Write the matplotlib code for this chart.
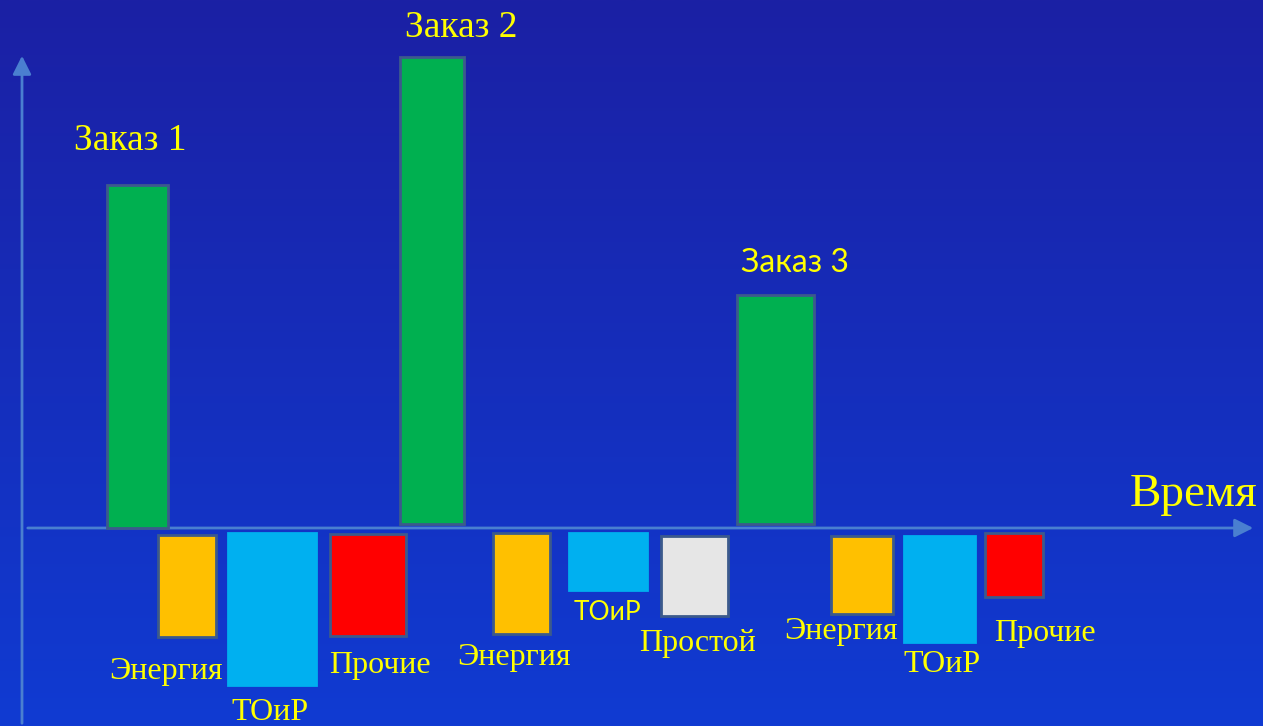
import numpy as np
import matplotlib
matplotlib.use('Agg')
import matplotlib.pyplot as plt
from matplotlib.colors import to_rgb

# Datos (altura de cada columna)
orders = ['Заказ 1', 'Заказ 2', 'Заказ 3']
order_values = [343, 471, 233]
cost_labels = ['Энергия', 'ТОиР', 'Прочие', 'Энергия', 'ТОиР', 'Простой',
               'Энергия', 'ТОиР', 'Прочие']
cost_values = [102, 152, 102, 101, 57, 80, 78, 106, 64]

# Disposición (posiciones y anchos de columnas)
order_x = [107, 400, 737]
order_w = [61, 64, 77]
order_gap = [0, 4, 4]
cost_x = [158, 228, 330, 493, 569, 661, 831, 904, 985]
cost_w = [58, 88, 76, 57, 78, 67, 62, 71, 58]
cost_gap = [7, 5, 6, 5, 5, 8, 8, 8, 5]

# Posiciones de los textos
order_text_pos = [(130, 387), (461, 500), (795, 265)]
order_text_font = ['serif', 'serif', 'sans']
cost_text_pos = [(166, -143), (270, -185), (380, -138), (514, -130), (607, -85),
                 (698, -115), (841, -103), (942, -137), (1045, -105)]
cost_text_font = ['serif', 'serif', 'serif', 'serif', 'sans',
                  'serif', 'serif', 'serif', 'serif']

colors = {'Энергия': '#ffc000', 'ТОиР': '#00b0f0', 'Прочие': '#ff0000',
          'Простой': '#e6e6e6'}
edge = '#3c5a8c'
text_color = '#ffff00'
axis_color = '#4a7fd0'
fonts = {'serif': ['Liberation Serif', 'DejaVu Serif'],
         'sans': ['Lato', 'DejaVu Sans']}

fig = plt.figure(figsize=(12.63, 7.26), dpi=100)
ax = fig.add_axes([0, 0, 1, 1])
ax.set_xlim(0, 1263)
ax.set_ylim(-198, 528)
ax.axis('off')

# Fondo degradado
top = np.array(to_rgb('#1b20a4'))
bottom = np.array(to_rgb('#103bd2'))
t = np.linspace(0, 1, 256)[:, None, None]
grad = top * (1 - t) + bottom * t
ax.imshow(grad, extent=[0, 1263, -198, 528], aspect='auto', zorder=0)

# Columnas de pedidos
for x, w, v, g in zip(order_x, order_w, order_values, order_gap):
    ax.bar(x, v - g, w, bottom=g, align='edge', color='#00b050',
           edgecolor=edge, linewidth=2, zorder=3)

# Columnas de costes
for x, w, v, g, lab in zip(cost_x, cost_w, cost_values, cost_gap, cost_labels):
    ec = colors[lab] if lab == 'ТОиР' else edge
    ax.bar(x, -v, w, bottom=-g, align='edge', color=colors[lab],
           edgecolor=ec, linewidth=2, zorder=3)

# Ejes con flechas
ax.annotate('', xy=(1256, 0), xytext=(25, 0),
            arrowprops=dict(arrowstyle='-|>', color=axis_color, lw=2,
                            mutation_scale=28), zorder=2)
ax.annotate('', xy=(22, 475), xytext=(22, -198),
            arrowprops=dict(arrowstyle='-|>', color=axis_color, lw=2,
                            mutation_scale=28), zorder=2)

# Textos
for lab, (x, y), f in zip(orders, order_text_pos, order_text_font):
    ax.text(x, y, lab, color=text_color, fontsize=27 if f == 'serif' else 23,
            family=fonts[f], ha='center', va='center', zorder=4)
for lab, (x, y), f in zip(cost_labels, cost_text_pos, cost_text_font):
    ax.text(x, y, lab, color=text_color, fontsize=23 if f == 'serif' else 19,
            family=fonts[f], ha='center', va='center', zorder=4)
ax.text(1194, 33, 'Время', color=text_color, fontsize=34,
        family=fonts['serif'], ha='center', va='center', zorder=4)

fig.savefig('out.png', dpi=100)
